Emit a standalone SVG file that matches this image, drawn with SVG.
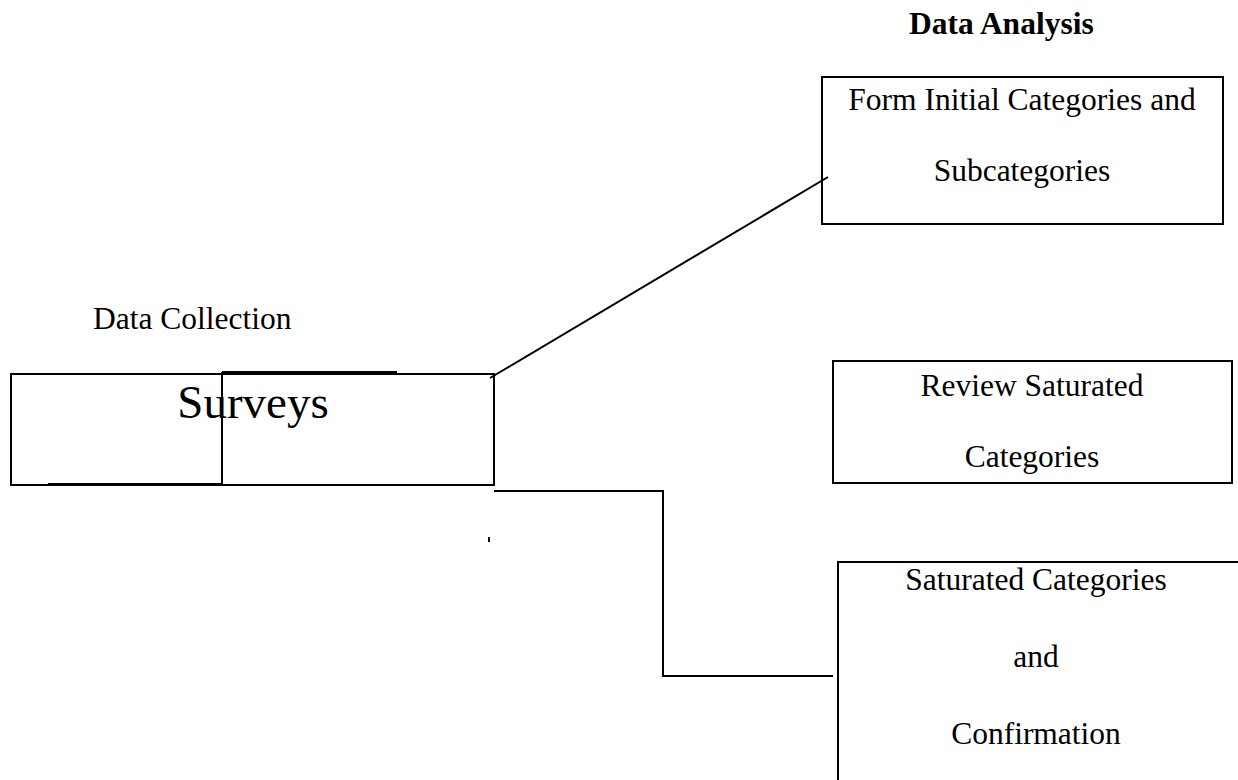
<svg xmlns="http://www.w3.org/2000/svg" width="1238" height="780" viewBox="0 0 1238 780">
<style>
  .box { fill: none; stroke: #000; stroke-width: 2; }
  .ln { fill: none; stroke: #000; stroke-width: 2; }
  .t { font-family: "Liberation Serif", "Times New Roman", serif; font-size: 31.5px; fill: #000; }
  .c { text-anchor: middle; }
  .b { font-weight: bold; }
</style>
<rect x="0" y="0" width="1238" height="780" fill="#fff"/>
<text class="t b" x="909" y="34">Data Analysis</text>
<text class="t" x="93" y="329">Data Collection</text>
<g id="connectors">
  <line class="ln" x1="490" y1="378" x2="828" y2="177"/>
  <polyline class="ln" points="494,491 663,491 663,676 833,676"/>
  <line class="ln" x1="489" y1="537" x2="489" y2="542"/>
</g>
<g id="surveys">
  <rect class="box" x="11" y="374" width="483" height="111"/>
  <line class="ln" x1="222" y1="372" x2="397" y2="372"/>
  <line class="ln" x1="222" y1="372" x2="222" y2="485"/>
  <line class="ln" x1="48" y1="484" x2="222" y2="484"/>
  <text class="t c" x="253" y="418" style="font-size:47px">Surveys</text>
</g>
<g id="form-initial">
  <rect class="box" x="822" y="77" width="401" height="147"/>
  <text class="t c" x="1022" y="110">Form Initial Categories and</text>
  <text class="t c" x="1022" y="181">Subcategories</text>
</g>
<g id="review">
  <rect class="box" x="833" y="361" width="399" height="122"/>
  <text class="t c" x="1032" y="396">Review Saturated</text>
  <text class="t c" x="1032" y="467">Categories</text>
</g>
<g id="saturated">
  <rect class="box" x="838" y="562" width="404" height="230"/>
  <text class="t c" x="1036" y="590">Saturated Categories</text>
  <text class="t c" x="1036" y="667">and</text>
  <text class="t c" x="1036" y="744">Confirmation</text>
</g>
</svg>
